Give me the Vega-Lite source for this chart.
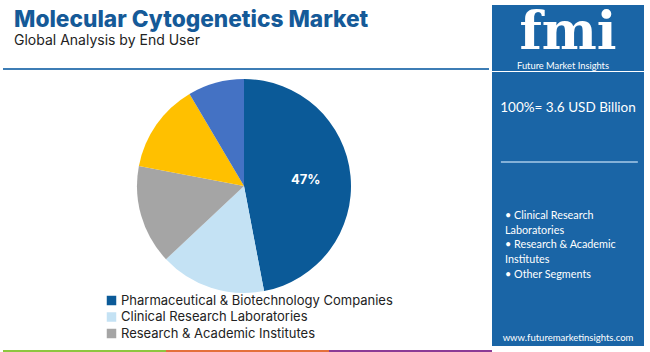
{
  "$schema": "https://vega.github.io/schema/vega-lite/v6.json",
  "background": "white",
  "padding": {"left": 3, "top": 5, "right": 6, "bottom": 2},
  "config": {"view": {"stroke": null}, "font": "Inter"},
  "datasets": {
    "segments": [
      {"segment": "Pharmaceutical & Biotechnology Companies", "share": 0.47, "rank": 1},
      {"segment": "Clinical Research Laboratories", "share": 0.16, "rank": 2},
      {"segment": "Research & Academic Institutes", "share": 0.15, "rank": 3},
      {"segment": "Diagnostic Laboratories", "share": 0.135, "rank": 4},
      {"segment": "Others", "share": 0.085, "rank": 5}
    ],
    "texts": [
      {"part": "title", "text": "Molecular Cytogenetics Market"},
      {"part": "subtitle", "text": "Global Analysis by End User"},
      {"part": "brand", "text": "fmi"},
      {"part": "brandName", "text": "Future Market Insights"},
      {"part": "total", "text": "100%= 3.6 USD Billion"},
      {"part": "bullets", "text": "• Clinical Research\nLaboratories\n• Research & Academic\nInstitutes\n• Other Segments"},
      {"part": "web", "text": "www.futuremarketinsights.com"}
    ],
    "blank": [{}]
  },
  "spacing": 0,
  "hconcat": [
    {
      "spacing": 0,
      "vconcat": [
        {
          "width": 486,
          "height": 61,
          "data": {"name": "texts"},
          "layer": [
            {
              "transform": [{"filter": "datum.part === 'title'"}],
              "mark": {"type": "text", "font": "Inter", "fontSize": 22.7, "fontWeight": 800, "color": "#155a98", "align": "left", "baseline": "alphabetic", "dx": -232, "dy": -8.5},
              "encoding": {"text": {"field": "text", "type": "nominal"}}
            },
            {
              "transform": [{"filter": "datum.part === 'subtitle'"}],
              "mark": {"type": "text", "font": "Inter", "fontSize": 14, "color": "#222222", "align": "left", "baseline": "alphabetic", "dx": -232, "dy": 9.5},
              "encoding": {"text": {"field": "text", "type": "nominal"}}
            }
          ]
        },
        {
          "width": 486,
          "height": 2,
          "view": {"fill": "#3d7db5", "stroke": null},
          "data": {"name": "blank"},
          "mark": {"type": "point", "opacity": 0}
        },
        {
          "width": 482,
          "height": 228,
          "data": {"name": "segments"},
          "encoding": {
            "theta": {"field": "share", "type": "quantitative", "stack": true},
            "order": {"field": "rank", "type": "quantitative"}
          },
          "layer": [
            {
              "mark": {"type": "arc", "outerRadius": 107},
              "encoding": {
                "color": {
                  "field": "segment",
                  "type": "nominal",
                  "scale": {
                    "domain": ["Pharmaceutical & Biotechnology Companies", "Clinical Research Laboratories", "Research & Academic Institutes", "Diagnostic Laboratories", "Others"],
                    "range": ["#0b5a98", "#c4e2f4", "#a5a5a5", "#ffc000", "#4472c4"]
                  },
                  "legend": {
                    "orient": "none",
                    "legendX": 102,
                    "legendY": 289,
                    "direction": "vertical",
                    "title": null,
                    "values": ["Pharmaceutical & Biotechnology Companies", "Clinical Research Laboratories", "Research & Academic Institutes"],
                    "symbolType": "square",
                    "symbolSize": 90,
                    "symbolStrokeWidth": 0,
                    "labelFont": "Inter",
                    "labelFontSize": 13,
                    "labelColor": "#222222",
                    "labelLimit": 400,
                    "labelOffset": 3,
                    "rowPadding": 2.5
                  }
                }
              }
            },
            {
              "mark": {"type": "text", "radius": 62, "fontSize": 13, "fontWeight": "bold", "font": "Inter"},
              "encoding": {
                "detail": {"field": "segment", "type": "nominal"},
                "text": {"field": "share", "type": "quantitative", "format": ".0%"},
                "color": {"value": "white"},
                "opacity": {"condition": {"test": "datum.rank === 1", "value": 1}, "value": 0}
              }
            }
          ]
        },
        {
          "width": 486,
          "height": 48,
          "data": {"name": "blank"},
          "mark": {"type": "point", "opacity": 0}
        },
        {
          "spacing": 0,
          "hconcat": [
            {"width": 163, "height": 3, "view": {"fill": "#8dc63f", "stroke": null}, "data": {"name": "blank"}, "mark": {"type": "point", "opacity": 0}},
            {"width": 163, "height": 3, "view": {"fill": "#e4703b", "stroke": null}, "data": {"name": "blank"}, "mark": {"type": "point", "opacity": 0}},
            {"width": 163, "height": 3, "view": {"fill": "#8b3b96", "stroke": null}, "data": {"name": "blank"}, "mark": {"type": "point", "opacity": 0}}
          ]
        }
      ]
    },
    {
      "spacing": 0,
      "vconcat": [
        {
          "width": 152, "height": 66,
          "view": {"fill": "#1a65a6", "stroke": null},
          "data": {"name": "texts"},
          "layer": [
            {
              "transform": [{"filter": "datum.part === 'brand'"}],
              "mark": {"type": "text", "font": "DejaVu Serif", "fontWeight": "bold", "fontSize": 52, "color": "white", "baseline": "alphabetic", "dy": 11},
              "encoding": {"text": {"field": "text", "type": "nominal"}}
            },
            {
              "transform": [{"filter": "datum.part === 'brandName'"}],
              "mark": {"type": "text", "font": "Lato", "fontSize": 9.3, "color": "white", "dx": -5, "dy": 28},
              "encoding": {"text": {"field": "text", "type": "nominal"}}
            }
          ]
        },
        {
          "width": 152, "height": 75,
          "view": {"fill": "#1a65a6", "stroke": null},
          "data": {"name": "texts"},
          "transform": [{"filter": "datum.part === 'total'"}],
          "mark": {"type": "text", "font": "Lato", "fontSize": 13.5, "color": "white", "dy": -1.5},
          "encoding": {"text": {"field": "text", "type": "nominal"}}
        },
        {
          "width": 152, "height": 30,
          "view": {"fill": "#1a65a6", "stroke": null},
          "data": {"name": "blank"},
          "mark": {"type": "rule", "color": "#a9cbe8", "strokeWidth": 1.5},
          "encoding": {
            "x": {"datum": 0, "type": "quantitative", "scale": {"domain": [-0.065, 1.045]}, "axis": null},
            "x2": {"datum": 1}
          }
        },
        {
          "width": 152, "height": 153,
          "view": {"fill": "#1a65a6", "stroke": null},
          "data": {"name": "texts"},
          "transform": [{"filter": "datum.part === 'bullets'"}],
          "mark": {"type": "text", "font": "Lato", "fontSize": 10.8, "color": "white", "align": "left", "dx": -63, "dy": -37.5, "lineBreak": "\n", "lineHeight": 14.7},
          "encoding": {"text": {"field": "text", "type": "nominal"}}
        },
        {
          "width": 152, "height": 16,
          "view": {"fill": "#1a65a6", "stroke": null},
          "data": {"name": "texts"},
          "transform": [{"filter": "datum.part === 'web'"}],
          "mark": {"type": "text", "font": "Lato", "fontSize": 9.5, "color": "white"},
          "encoding": {"text": {"field": "text", "type": "nominal"}}
        }
      ]
    }
  ]
}
